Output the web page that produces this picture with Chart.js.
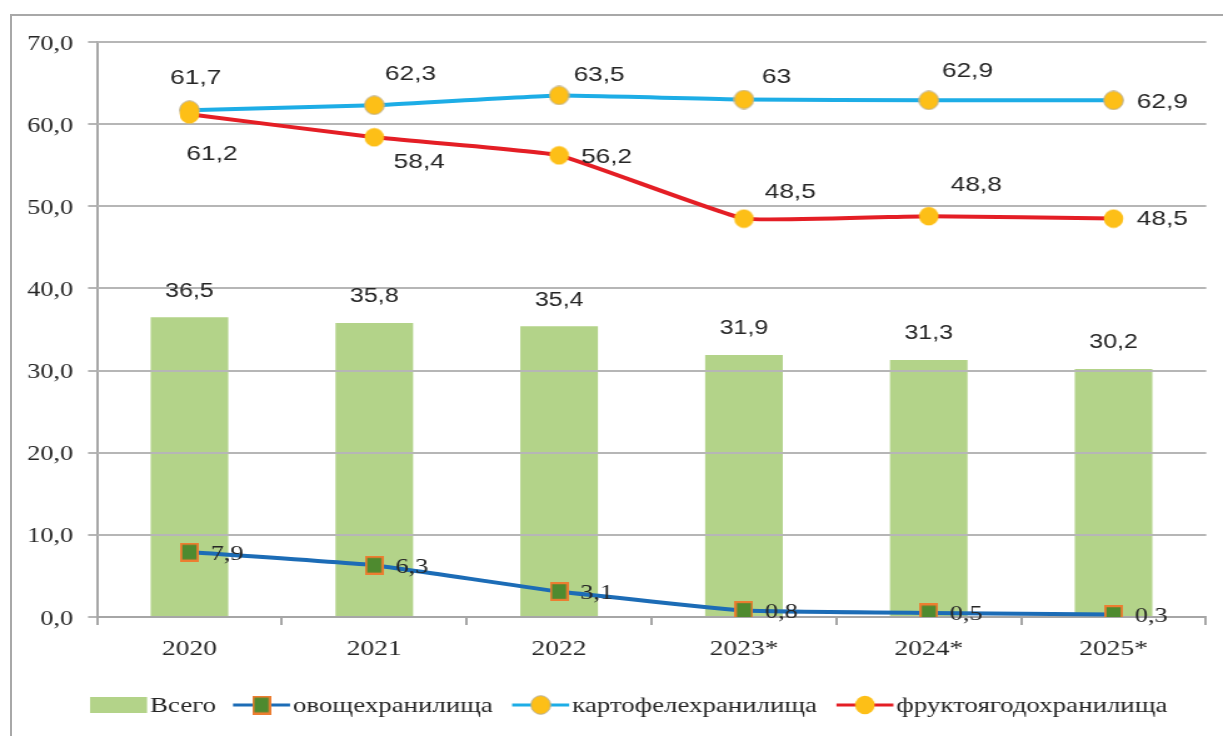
<!DOCTYPE html>
<html><head><meta charset="utf-8">
<script src="https://cdn.jsdelivr.net/npm/chart.js@4.4.0/dist/chart.umd.min.js"></script>
<style>
html,body{margin:0;padding:0;background:#fff;overflow:hidden;width:1223px;height:736px;}
#frame{position:absolute;left:10px;top:14px;width:1300px;height:800px;border:2px solid #a8a8a8;}
#wrap{position:absolute;left:0;top:0;width:978px;height:736px;transform:scaleX(1.2505);transform-origin:0 0;}
</style></head><body>
<div id="frame"></div>
<div id="wrap"><canvas id="c"></canvas></div>
<script>
const categories = ['2020', '2021', '2022', '2023*', '2024*', '2025*'];
const totalValues = [36.5, 35.8, 35.4, 31.9, 31.3, 30.2];
const vegetableValues = [7.9, 6.3, 3.1, 0.8, 0.5, 0.3];
const potatoValues = [61.7, 62.3, 63.5, 63, 62.9, 62.9];
const fruitValues = [61.2, 58.4, 56.2, 48.5, 48.8, 48.5];
const yTickValues = [0, 10, 20, 30, 40, 50, 60, 70];
const seriesNames = ['Всего', 'овощехранилища', 'картофелехранилища', 'фруктоягодохранилища'];

// label placement (style only)
const potatoLabelOffsets = [[5,-32],[29,-31],[32,-20],[26,-22],[31,-29],[39,2]];
const fruitLabelOffsets = [[18,40],[36,25],[38,2],[37,-26],[38,-31],[39,1]];
const vegLabelOffset = [30, 2];
const barLabelOffset = -26;

const SERIF = '"Liberation Serif", "Times New Roman", serif';
const SANS = '"Liberation Sans", Arial, sans-serif';
const TEXT = '#262626';
const COLORS = { bar:'#B3D389', veg:'#1C6CB6', potato:'#1DADE6', fruit:'#E41E25', grid:'#B6B6B6', axis:'#A6A6A6' };
const fmt = v => String(v).replace('.', ',');

function markerCanvas(kind){
  const c = document.createElement('canvas');
  const ctx = c.getContext('2d');
  if (kind === 'square') {
    c.width = 15; c.height = 19;
    ctx.fillStyle = '#ED7D31'; ctx.fillRect(0, 0, 15, 19);
    ctx.fillStyle = '#4E8A2F'; ctx.fillRect(1.8, 2.2, 11.4, 14.6);
  } else {
    c.width = 17; c.height = 20;
    ctx.beginPath(); ctx.ellipse(8.5, 10, 7.8, 9.3, 0, 0, Math.PI * 2);
    ctx.fillStyle = '#FDBF17'; ctx.fill();
    if (kind === 'circleGray') { ctx.lineWidth = 1; ctx.strokeStyle = '#BBAF90'; ctx.stroke(); }
  }
  return c;
}
const vegMarker = markerCanvas('square');
const potatoMarker = markerCanvas('circleGray');
const fruitMarker = markerCanvas('circle');

function align(p, w){ return Math.round(p - w / 2) + w / 2; }

const gridOverBars = {
  id: 'gridOverBars',
  afterDatasetDraw(chart, args){
    if (args.meta.type !== 'bar') return;
    const y = chart.scales.y, a = chart.chartArea, ctx = chart.ctx;
    ctx.save();
    ctx.strokeStyle = COLORS.grid; ctx.lineWidth = 2;
    y.ticks.forEach(t => {
      if (t.value === 0) return;
      const py = align(y.getPixelForValue(t.value), 2);
      ctx.beginPath(); ctx.moveTo(a.left, py); ctx.lineTo(a.right, py); ctx.stroke();
    });
    ctx.restore();
  }
};

const valueLabels = {
  id: 'valueLabels',
  afterDatasetsDraw(chart){
    const ctx = chart.ctx;
    ctx.save();
    ctx.textAlign = 'center'; ctx.textBaseline = 'middle'; ctx.fillStyle = TEXT;
    ctx.font = '20px ' + SANS;
    chart.getDatasetMeta(0).data.forEach((el, i) => ctx.fillText(fmt(totalValues[i]), el.x, el.y + barLabelOffset));
    ctx.font = '21px ' + SERIF;
    chart.getDatasetMeta(1).data.forEach((el, i) => ctx.fillText(fmt(vegetableValues[i]), el.x + vegLabelOffset[0], el.y + vegLabelOffset[1]));
    ctx.font = '21px ' + SANS;
    chart.getDatasetMeta(2).data.forEach((el, i) => ctx.fillText(fmt(potatoValues[i]), el.x + potatoLabelOffsets[i][0], el.y + potatoLabelOffsets[i][1]));
    chart.getDatasetMeta(3).data.forEach((el, i) => ctx.fillText(fmt(fruitValues[i]), el.x + fruitLabelOffsets[i][0], el.y + fruitLabelOffsets[i][1]));
    ctx.restore();
  }
};

const customLegend = {
  id: 'customLegend',
  afterDraw(chart){
    const ctx = chart.ctx;
    const symW = 45.6, gapText = 2.4, cy = 705;
    const gaps = [13.6, 15.5, 15.5, 0];
    let x = 72;
    ctx.save();
    ctx.font = '21.5px ' + SERIF; ctx.textBaseline = 'middle'; ctx.textAlign = 'left'; ctx.fillStyle = TEXT;
    const items = [
      {name: seriesNames[0], type: 'box'},
      {name: seriesNames[1], color: COLORS.veg, marker: vegMarker},
      {name: seriesNames[2], color: COLORS.potato, marker: potatoMarker},
      {name: seriesNames[3], color: COLORS.fruit, marker: fruitMarker}
    ];
    items.forEach((it, k) => {
      if (it.type === 'box') {
        ctx.fillStyle = COLORS.bar; ctx.fillRect(x, cy - 8, symW, 16);
      } else {
        ctx.strokeStyle = it.color; ctx.lineWidth = 3;
        ctx.beginPath(); ctx.moveTo(x, cy); ctx.lineTo(x + symW, cy); ctx.stroke();
        ctx.drawImage(it.marker, x + symW / 2 - it.marker.width / 2, cy - it.marker.height / 2);
      }
      ctx.fillStyle = TEXT;
      const tx = x + symW + gapText;
      ctx.fillText(it.name, tx, cy + 1);
      x = tx + ctx.measureText(it.name).width + gaps[k];
    });
    ctx.restore();
  }
};

new Chart(document.getElementById('c'), {
  type: 'bar',
  data: {
    labels: categories,
    datasets: [
      {type: 'bar', label: seriesNames[0], data: totalValues, backgroundColor: COLORS.bar, barPercentage: 0.42, categoryPercentage: 1, order: 4},
      {type: 'line', label: seriesNames[1], data: vegetableValues, borderColor: COLORS.veg, borderWidth: 4, tension: 0.1, pointStyle: vegMarker, pointRadius: 8, order: 1},
      {type: 'line', label: seriesNames[2], data: potatoValues, borderColor: COLORS.potato, borderWidth: 4, tension: 0.1, pointStyle: potatoMarker, pointRadius: 8, order: 3},
      {type: 'line', label: seriesNames[3], data: fruitValues, borderColor: COLORS.fruit, borderWidth: 4, tension: 0.1, pointStyle: fruitMarker, pointRadius: 8, order: 2}
    ]
  },
  options: {
    responsive: true, maintainAspectRatio: false, animation: false, devicePixelRatio: 1,
    layout: {padding: {left: 0, right: 13.6, top: 42, bottom: 69}},
    plugins: {legend: {display: false}, tooltip: {enabled: false}},
    scales: {
      x: {
        offset: true,
        grid: {offset: true, drawOnChartArea: false, drawTicks: true, tickLength: 8, color: COLORS.axis, lineWidth: 2},
        border: {display: true, color: COLORS.axis, width: 2},
        ticks: {font: {family: SERIF, size: 22}, color: TEXT, padding: 11, maxRotation: 0, autoSkip: false},
        afterFit: s => { s.height = 50; }
      },
      y: {
        min: 0, max: 70,
        afterBuildTicks: s => { s.ticks = yTickValues.map(v => ({value: v})); },
        grid: {color: COLORS.grid, lineWidth: 2, tickLength: 7.2, drawTicks: true},
        border: {display: true, color: COLORS.axis, width: 2},
        ticks: {font: {family: SERIF, size: 21}, color: TEXT, padding: 12, labelOffset: 2, callback: v => Number(v).toFixed(1).replace('.', ',')},
        afterFit: s => { s.width = 77.6; }
      }
    }
  },
  plugins: [gridOverBars, valueLabels, customLegend]
});
</script></body></html>
